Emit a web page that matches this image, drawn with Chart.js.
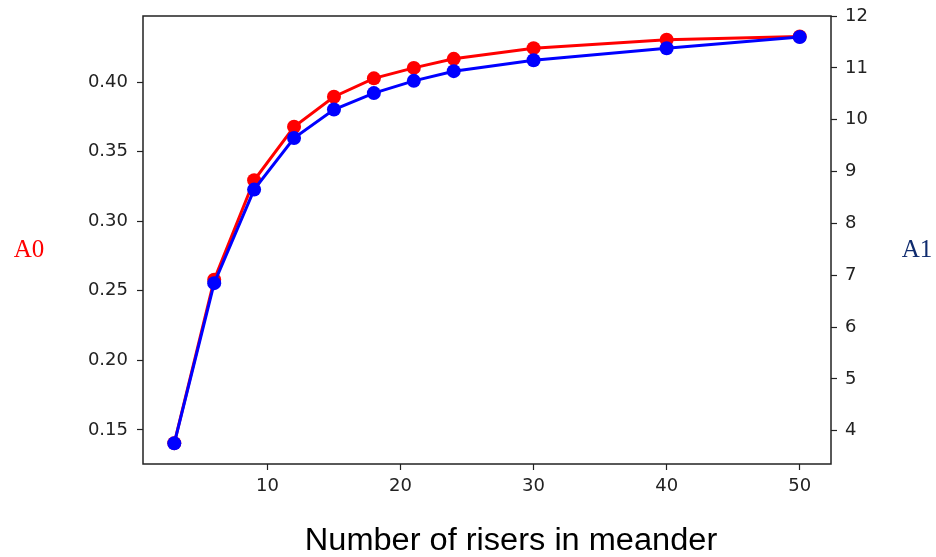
<!DOCTYPE html>
<html>
<head>
<meta charset="utf-8">
<script src="https://cdn.jsdelivr.net/npm/chart.js@4"></script>
<style>
  html, body { margin: 0; padding: 0; background: #fff; }
  #wrap { width: 936px; height: 557px; position: relative; }
</style>
</head>
<body>
<div id="wrap"><canvas id="chart" width="936" height="557"></canvas></div>
<script>
const risers = [3, 6, 9, 12, 15, 18, 21, 24, 30, 40, 50];
const a0Values = [0.1405, 0.258, 0.3294, 0.3679, 0.3895, 0.4027, 0.4102, 0.4167, 0.4244, 0.4304, 0.4328];
const a1Values = [3.758, 6.848, 8.652, 9.647, 10.197, 10.513, 10.749, 10.936, 11.148, 11.379, 11.596];

const xTicks = [10, 20, 30, 40, 50];
const leftTicks = [0.15, 0.20, 0.25, 0.30, 0.35, 0.40];
const rightTicks = [4, 5, 6, 7, 8, 9, 10, 11, 12];

const xTitle = "Number of risers in meander";
const leftTitle = "A0";
const rightTitle = "A1";

const tickFont = { family: "'DejaVu Sans'", size: 18 };
const tickColor = "#222";

function fixedTicks(values) {
  return (scale) => { scale.ticks = values.map(v => ({ value: v })); };
}

// fixed axis size, and no extra room for labels sticking past the plot ends
function fitTo(prop, size) {
  return (s) => {
    s[prop] = size;
    s.paddingTop = s.paddingBottom = s.paddingLeft = s.paddingRight = 0;
  };
}

// frame + the horizontal axis titles matplotlib put outside the axes
const extras = {
  id: "extras",
  afterDatasetsDraw(chart) {
    const { ctx, chartArea: a } = chart;
    ctx.save();
    ctx.strokeStyle = "#222";
    ctx.lineWidth = 1.5;
    ctx.strokeRect(a.left, a.top, a.right - a.left, a.bottom - a.top);

    ctx.textBaseline = "alphabetic";
    ctx.textAlign = "center";
    ctx.font = "25px 'Liberation Serif'";
    ctx.fillStyle = "#ff0000";
    ctx.fillText(leftTitle, 29, 257);
    ctx.fillStyle = "#0f2b6e";
    ctx.fillText(rightTitle, 917, 257);

    // title in the reference is a touch wider than plain Arial
    ctx.font = "31px 'Liberation Sans'";
    ctx.fillStyle = "#000";
    ctx.translate(511, 550);
    ctx.scale(1.05, 1);
    ctx.fillText(xTitle, 0, 0);
    ctx.restore();
  }
};

new Chart(document.getElementById("chart"), {
  type: "line",
  data: {
    datasets: [
      {
        label: "A1",
        data: risers.map((x, i) => ({ x, y: a1Values[i] })),
        yAxisID: "y1",
        borderColor: "#0000ff",
        backgroundColor: "#0000ff",
        borderWidth: 3,
        pointRadius: 7,
        pointBorderWidth: 0,
        order: 0
      },
      {
        label: "A0",
        data: risers.map((x, i) => ({ x, y: a0Values[i] })),
        yAxisID: "y",
        borderColor: "#ff0000",
        backgroundColor: "#ff0000",
        borderWidth: 3,
        pointRadius: 7,
        pointBorderWidth: 0,
        order: 1
      }
    ]
  },
  options: {
    responsive: false,
    animation: false,
    layout: { padding: { top: 16, left: 0, right: 0, bottom: 0 } },
    plugins: { legend: { display: false }, tooltip: { enabled: false } },
    scales: {
      x: {
        type: "linear",
        min: 0.65,
        max: 52.35,
        afterBuildTicks: fixedTicks(xTicks),
        afterFit: fitTo("height", 93),
        grid: { drawOnChartArea: false, drawTicks: true, tickLength: 6, color: "#222", tickWidth: 1.2 },
        border: { display: false },
        ticks: { font: tickFont, color: tickColor, padding: 6, maxRotation: 0 }
      },
      y: {
        position: "left",
        min: 0.1255,
        max: 0.4475,
        afterBuildTicks: fixedTicks(leftTicks),
        afterFit: fitTo("width", 143),
        grid: { drawOnChartArea: false, drawTicks: true, tickLength: 6, color: "#222", tickWidth: 1.2 },
        border: { display: false },
        ticks: { font: tickFont, color: tickColor, padding: 9, callback: (v) => v.toFixed(2) }
      },
      y1: {
        position: "right",
        min: 3.36,
        max: 12.0,
        afterBuildTicks: fixedTicks(rightTicks),
        afterFit: fitTo("width", 105),
        grid: { drawOnChartArea: false, drawTicks: true, tickLength: 6, color: "#222", tickWidth: 1.2 },
        border: { display: false },
        ticks: { font: tickFont, color: tickColor, padding: 8 }
      }
    }
  },
  plugins: [extras]
});
</script>
</body>
</html>
